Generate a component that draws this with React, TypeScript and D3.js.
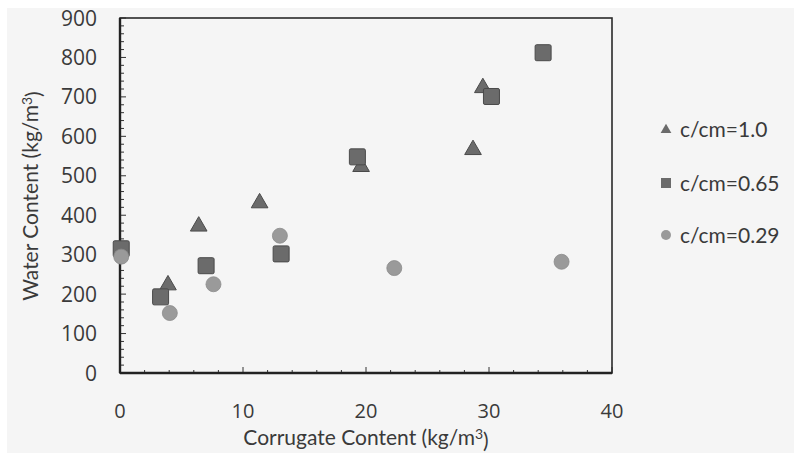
import React from "react";
import * as d3 from "d3";

const triX = [3.9, 6.4, 11.35, 19.6, 28.7, 29.5];
const triY = [223, 372, 431, 523, 566, 723];
const sqX = [0.1, 3.3, 7.0, 13.1, 19.3, 30.2, 34.4];
const sqY = [315, 193, 272, 302, 548, 701, 812];
const cirX = [0.1, 4.05, 7.6, 13.0, 22.3, 35.9];
const cirY = [295, 152, 225, 348, 266, 282];
const xTicks = [0, 10, 20, 30, 40];
const yTicks = [0, 100, 200, 300, 400, 500, 600, 700, 800, 900];
const legendLabels = ["c/cm=1.0", "c/cm=0.65", "c/cm=0.29"];

const W = 794, H = 453;
const L = 120, R = 612, T = 18, B = 373;

export default function App() {
  const x = d3.scaleLinear().domain([0, 40]).range([L, R]);
  const y = d3.scaleLinear().domain([0, 900]).range([B, T]);
  const tri = d3.symbol().type(d3.symbolTriangle).size(120);
  const triSmall = d3.symbol().type(d3.symbolTriangle).size(50);
  const xMinor = d3.range(0, 41, 2);
  const yMinor = d3.range(0, 901, 20);
  const font = "'Open Sans', sans-serif";
  const font2 = "Lato, sans-serif";
  const txt = "#3a3a3a";
  const dark = "#6b6b6b";
  const light = "#9a9a9a";
  const tris = triX.map((v, i) => ({ x: v, y: triY[i] }));
  const sqs = sqX.map((v, i) => ({ x: v, y: sqY[i] }));
  const cirs = cirX.map((v, i) => ({ x: v, y: cirY[i] }));
  const legY = [129, 183, 235];
  return (
    <svg width={W} height={H} style={{ position: "absolute", left: 0, top: 0 }}>
      <rect x={0} y={0} width={W} height={H} fill="#ffffff" />
      <rect x={7} y={8} width={W - 7} height={H - 8} fill="#f5f5f5" />
      {yMinor.map((v) => (
        <line key={"ym" + v} x1={L} x2={L + (v % 100 === 0 ? 6 : 4)} y1={y(v)} y2={y(v)} stroke="#333" strokeWidth={1} />
      ))}
      {xMinor.map((v) => (
        <line key={"xm" + v} x1={x(v)} x2={x(v)} y1={B - (v % 10 === 0 ? 6 : 3)} y2={B} stroke="#333" strokeWidth={1} />
      ))}
      <rect x={L} y={T} width={R - L} height={B - T} fill="none" stroke="#2a2a2a" strokeWidth={1.6} />
      <line x1={L} x2={L} y1={T} y2={B} stroke="#222" strokeWidth={2.4} />
      <line x1={L} x2={R} y1={B} y2={B} stroke="#222" strokeWidth={2.4} />
      {yTicks.map((v) => (
        <text key={"yt" + v} x={97} y={y(v)} dy="0.36em" textAnchor="end" fontFamily={font} fontSize={21} fill={txt}>{v}</text>
      ))}
      {xTicks.map((v) => (
        <text key={"xt" + v} x={x(v)} y={411} dy="0.36em" textAnchor="middle" fontFamily={font} fontSize={20} fill={txt}>{v}</text>
      ))}
      <text x={366} y={445} textAnchor="middle" fontFamily={font2} fontSize={21} fill={txt}>
        Corrugate Content (kg/m<tspan dy="-0.4em" fontSize={14}>3</tspan><tspan dy="0.4em">)</tspan>
      </text>
      <text transform="translate(38,196) rotate(-90)" textAnchor="middle" fontFamily={font2} fontSize={21} fill={txt}>
        Water Content (kg/m<tspan dy="-0.4em" fontSize={14}>3</tspan><tspan dy="0.4em">)</tspan>
      </text>
      {tris.map((d, i) => (
        <path key={"t" + i} d={tri() as string} transform={`translate(${x(d.x)},${y(d.y)})`} fill={dark} stroke="#4a4a4a" strokeWidth={1} />
      ))}
      {sqs.map((d, i) => (
        <rect key={"s" + i} x={x(d.x) - 8} y={y(d.y) - 8} width={16} height={16} rx={1.5} fill={dark} stroke="#4a4a4a" strokeWidth={1} />
      ))}
      {cirs.map((d, i) => (
        <circle key={"c" + i} cx={x(d.x)} cy={y(d.y)} r={7.5} fill={light} stroke="#8a8a8a" strokeWidth={0.8} />
      ))}
      <path d={triSmall() as string} transform={`translate(666,${legY[0] + 1})`} fill={dark} />
      <rect x={661} y={legY[1] - 5} width={10} height={10} fill={dark} />
      <circle cx={666} cy={legY[2]} r={5} fill={light} />
      {legendLabels.map((s, i) => (
        <text key={s} x={680} y={legY[i]} dy="0.36em" fontFamily={font2} fontSize={21} fill={txt}>{s}</text>
      ))}
    </svg>
  );
}
